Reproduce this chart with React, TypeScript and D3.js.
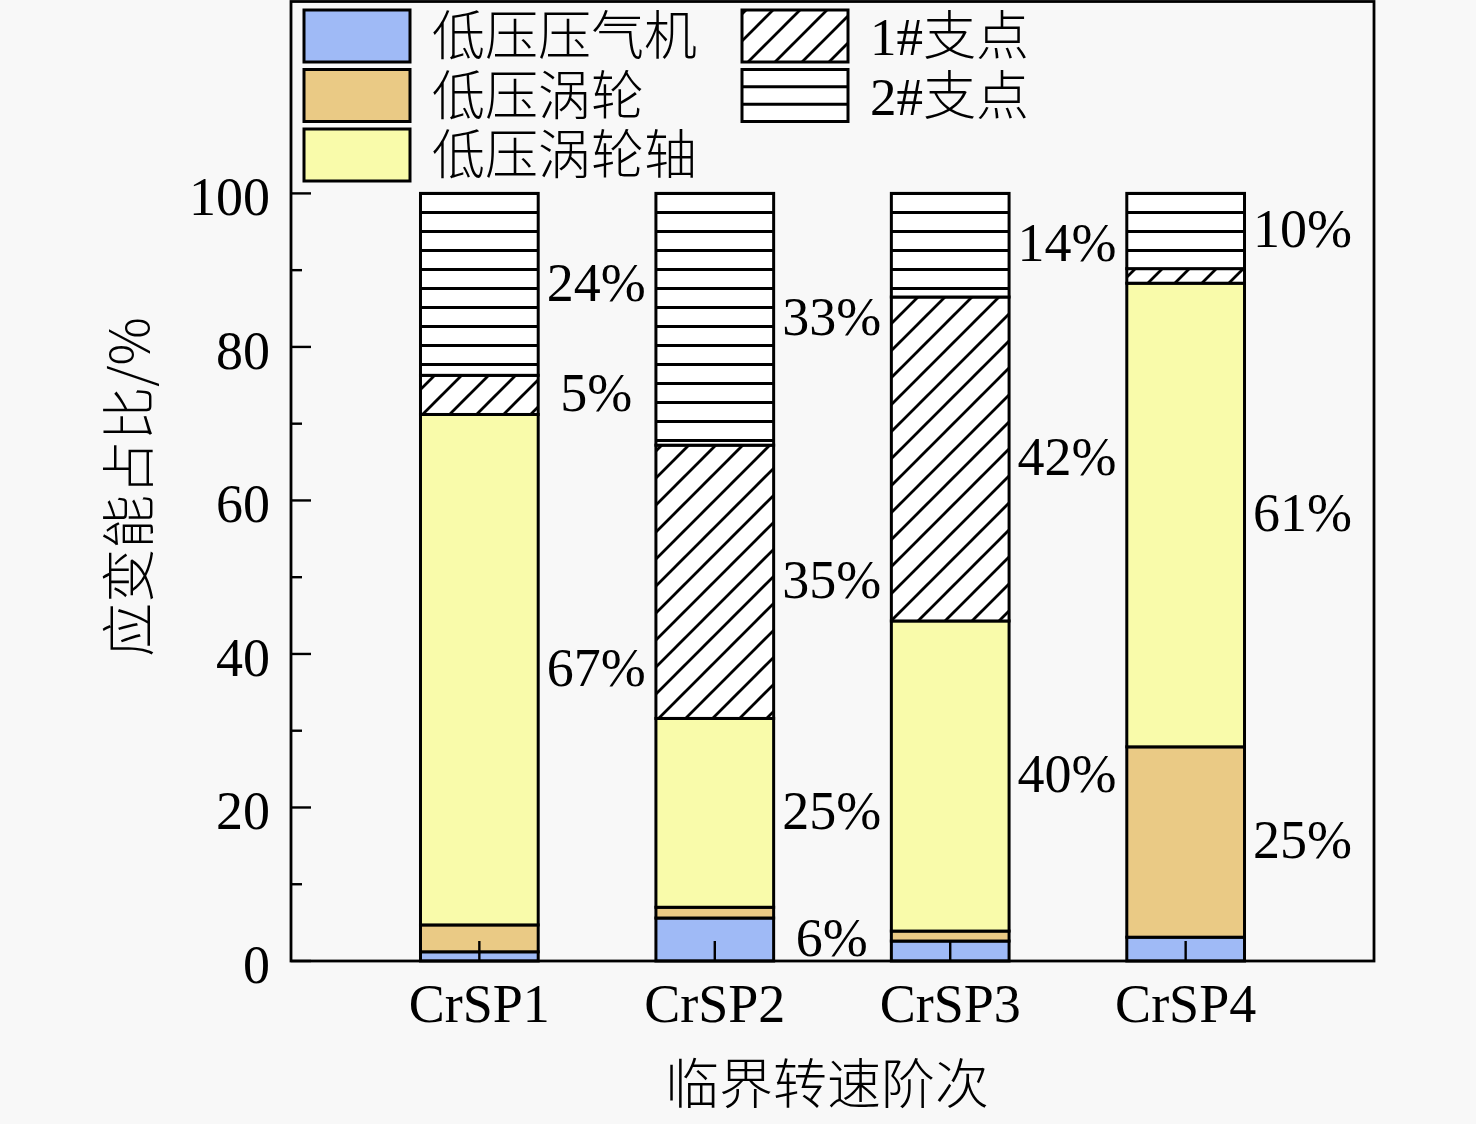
import * as d3 from "d3";
import React from "react";

const categories = ["CrSP1", "CrSP2", "CrSP3", "CrSP4"];
const seriesNames = ["低压压气机", "低压涡轮", "低压涡轮轴", "1#支点", "2#支点"];
const compressor = [1.2, 5.6, 2.6, 3.1];
const turbine = [3.5, 1.4, 1.3, 24.8];
const shaft = [66.5, 24.6, 40.4, 60.4];
const support1 = [5.1, 35.6, 42.2, 1.9];
const support2 = [23.7, 32.8, 13.5, 9.8];

const compressorLabels = ["", "6%", "", ""];
const turbineLabels = ["", "", "", "25%"];
const shaftLabels = ["67%", "25%", "40%", "61%"];
const support1Labels = ["5%", "35%", "42%", ""];
const support2Labels = ["24%", "33%", "14%", "10%"];

const yTicks = [0, 20, 40, 60, 80, 100];
const yMinorTicks = [10, 30, 50, 70, 90];

const W = 1476;
const H = 1124;
const serif = "'Times New Roman', 'Liberation Serif', serif";
const cjk = "'Noto Sans CJK SC', 'Noto Sans CJK JP', sans-serif";

const fills = ["#9fbaf6", "#eaca85", "#f9fbaa", "url(#hatchDiag)", "url(#hatchHoriz)"];

const App: React.FC = () => {
    const x = d3.scaleLinear().domain([0.2, 4.8]).range([291, 1374]);
    const y = d3.scaleLinear().domain([0, 125]).range([961, 1.5]);
    const barW = x(0.5) - x(0);

    const keys = ["c", "t", "s", "s1", "s2"];
    const rows = categories.map((cat, i) => ({
        cat, idx: i + 1,
        c: compressor[i], t: turbine[i], s: shaft[i], s1: support1[i], s2: support2[i],
    }));
    const labels = [compressorLabels, turbineLabels, shaftLabels, support1Labels, support2Labels];
    const stacked = d3.stack<any>().keys(keys)(rows);

    const legend = [
        { col: 0, row: 0, s: 0 }, { col: 0, row: 1, s: 1 }, { col: 0, row: 2, s: 2 },
        { col: 1, row: 0, s: 3 }, { col: 1, row: 1, s: 4 },
    ];

    return (
        <svg width={W} height={H} style={{ position: "absolute", left: 0, top: 0, background: "#f8f8f8" }}>
            <defs>
                <pattern id="hatchDiag" patternUnits="userSpaceOnUse" width={27} height={27}>
                    <rect width={27} height={27} fill="#fff" />
                    <path d="M0,27 L27,0 M-6.75,6.75 L6.75,-6.75 M20.25,33.75 L33.75,20.25" stroke="#000" strokeWidth={2.8} />
                </pattern>
                <pattern id="hatchHoriz" patternUnits="userSpaceOnUse" width={20} height={19} y={203}>
                    <rect width={20} height={19} fill="#fff" />
                    <line x1={0} x2={20} y1={9.5} y2={9.5} stroke="#000" strokeWidth={3} />
                </pattern>
            </defs>

            {/* bars */}
            {stacked.map((layer, si) => (
                <g key={layer.key}>
                    {layer.map((d, bi) => (
                        <rect key={bi}
                            x={x(d.data.idx) - barW / 2}
                            y={y(d[1])}
                            width={barW}
                            height={y(d[0]) - y(d[1])}
                            fill={fills[si]}
                            stroke="#000"
                            strokeWidth={3} />
                    ))}
                </g>
            ))}

            {/* percent labels */}
            {stacked.map((layer, si) => (
                <g key={"l" + layer.key}>
                    {layer.map((d, bi) => labels[si][bi] ? (
                        <text key={bi}
                            x={x(d.data.idx) + barW / 2 + 58}
                            y={y((d[0] + d[1]) / 2)}
                            dy="0.3em"
                            textAnchor="middle"
                            fontFamily={serif}
                            fontSize={54}>
                            {labels[si][bi]}
                        </text>
                    ) : null)}
                </g>
            ))}

            {/* frame */}
            <rect x={x(0.2)} y={y(125)} width={x(4.8) - x(0.2)} height={y(0) - y(125)}
                fill="none" stroke="#000" strokeWidth={2.8} />

            {/* y ticks */}
            {yTicks.map(t => (
                <g key={t}>
                    <line x1={x(0.2)} x2={x(0.2) + 20} y1={y(t)} y2={y(t)} stroke="#000" strokeWidth={2.4} />
                    <text x={270} y={y(t) + 3} dy="0.35em" textAnchor="end" fontFamily={serif} fontSize={54}>{t}</text>
                </g>
            ))}
            {yMinorTicks.map(t => (
                <line key={t} x1={x(0.2)} x2={x(0.2) + 11} y1={y(t)} y2={y(t)} stroke="#000" strokeWidth={2.4} />
            ))}

            {/* x ticks */}
            {categories.map((c, i) => (
                <g key={c}>
                    <line x1={x(i + 1)} x2={x(i + 1)} y1={y(0)} y2={y(0) - 20} stroke="#000" strokeWidth={2.4} />
                    <text x={x(i + 1)} y={1022} textAnchor="middle" fontFamily={serif} fontSize={54}>{c}</text>
                </g>
            ))}

            {/* axis titles */}
            <text x={827} y={1104} textAnchor="middle" fontFamily={cjk} fontWeight={300} fontSize={54}>临界转速阶次</text>
            <text transform={`translate(130, 487) rotate(-90)`} textAnchor="middle" dy="0.35em"
                fontFamily={cjk} fontWeight={300} fontSize={54}>应变能占比/%</text>

            {/* legend */}
            {legend.map(l => {
                const bx = l.col === 0 ? 304 : 742;
                const by = 10 + l.row * 59.5;
                return (
                    <g key={l.s}>
                        <rect x={bx} y={by} width={106} height={52} fill={l.s === 4 ? "#fff" : fills[l.s]}
                            stroke="#000" strokeWidth={3} />
                        {l.s === 4 && [1, 2].map(k => (
                            <line key={k} x1={bx} x2={bx + 106} y1={by + k * 52 / 3} y2={by + k * 52 / 3}
                                stroke="#000" strokeWidth={3} />
                        ))}
                        <text x={bx + 128} y={by + 26} dy="0.36em" fontFamily={cjk}
                            fontWeight={300} fontSize={53}>
                            {l.s >= 3 ? (
                                <>
                                    <tspan fontFamily={serif} fontWeight={400}>{seriesNames[l.s].slice(0, 2)}</tspan>
                                    <tspan>{seriesNames[l.s].slice(2)}</tspan>
                                </>
                            ) : seriesNames[l.s]}
                        </text>
                    </g>
                );
            })}
        </svg>
    );
};

export default App;
